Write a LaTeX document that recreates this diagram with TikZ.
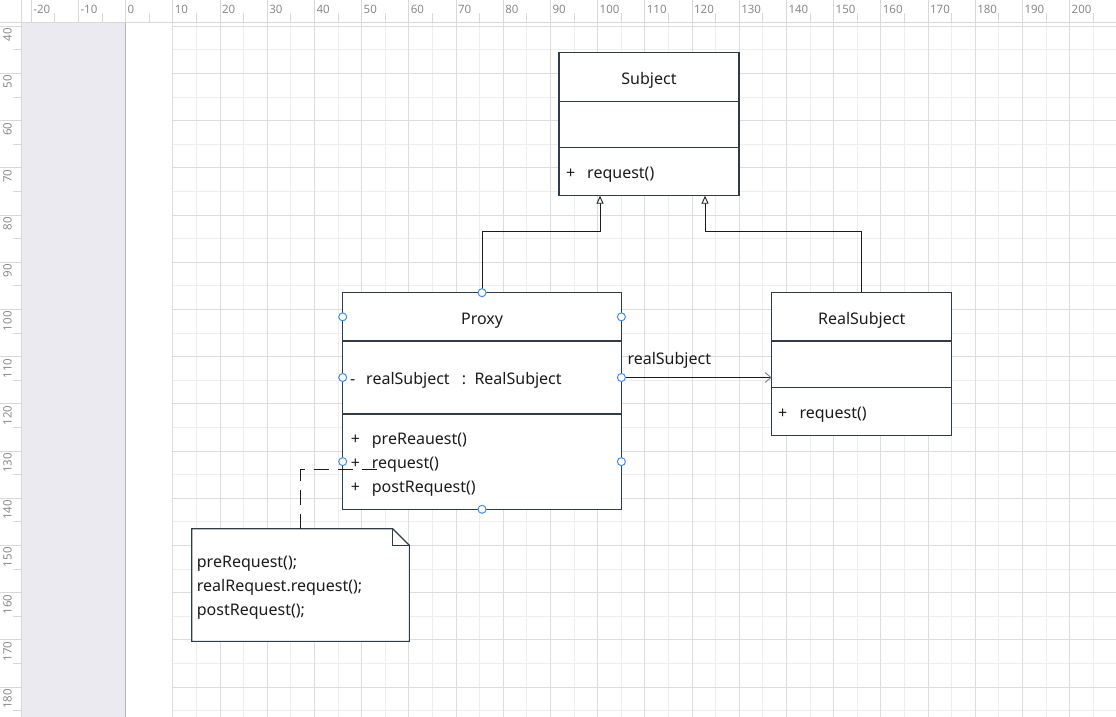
\documentclass[tikz,border=0pt]{standalone}
\usepackage{fontspec}
\setmainfont{Noto Sans}
\usetikzlibrary{arrows.meta}
\definecolor{numregua}{HTML}{8A8A8A}
\definecolor{tracor}{HTML}{D8D8D8}
\definecolor{faixa}{HTML}{EAEAF0}
\definecolor{bordafaixa}{HTML}{B5B5B5}
\definecolor{gradeforte}{HTML}{DDDDDD}
\definecolor{gradefraca}{HTML}{EEEEEE}
\definecolor{contorno}{HTML}{2F3D4A}
\definecolor{tinta}{HTML}{1C1C1C}
\definecolor{alca}{HTML}{3D8EF0}
\begin{document}
\begin{tikzpicture}[x=1pt,y=-1pt,
        compart/.style={draw=contorno, fill=white, line width=1.1pt, minimum width=#1,
            inner sep=0pt, outer sep=0pt, anchor=north, text=tinta, text height=15pt, text depth=0pt,
            font=\fontsize{16}{19}\selectfont},
        txt/.style={anchor=base west, inner sep=0pt, text=tinta, font=\fontsize{16}{19}\selectfont},
        numx/.style={anchor=base west, inner sep=0pt, text=numregua, font=\fontsize{11.5}{13}\selectfont},
        numy/.style={rotate=90, anchor=base east, inner sep=0pt, text=numregua, font=\fontsize{11.5}{13}\selectfont},
        tracoregua/.style={draw=tracor, line width=0.8pt},
        heranca/.style={draw=tinta, line width=0.9pt, -{Triangle[length=8pt, width=7pt, fill=white]}},
        assoc/.style={draw=tinta, line width=0.9pt, -{Straight Barb[length=6pt, width=10pt, color=gray]}},
        tracejado/.style={draw=tinta, line width=1pt, dash pattern=on 15pt off 9pt},
        alcaponto/.style={draw=alca, fill=white, line width=1pt}
    ]
        \useasboundingbox (0,0) rectangle (1116,717);

        % grade
        \fill[faixa] (21,22) rectangle (125,717);
        \draw[bordafaixa, line width=1pt] (125.5,22) -- (125.5,717);
        \foreach \v in {15,25,...,205} {
            \draw[gradefraca, line width=0.8pt] ({125.5+\v*4.72},22) -- ({125.5+\v*4.72},717);
        }
        \foreach \v in {45,55,...,185} {
            \draw[gradefraca, line width=0.8pt] (172.7,{26.1+(\v-40)*4.72}) -- (1116,{26.1+(\v-40)*4.72});
        }
        \foreach \v in {10,20,...,200} {
            \draw[gradeforte, line width=0.8pt] ({125.5+\v*4.72},22) -- ({125.5+\v*4.72},717);
        }
        \foreach \v in {40,50,...,180} {
            \draw[gradeforte, line width=0.8pt] (172.7,{26.1+(\v-40)*4.72}) -- (1116,{26.1+(\v-40)*4.72});
        }

        % régua superior
        \foreach \v [count=\i] in {-20,-10,...,200} {
            \draw[tracoregua] ({125.5+\v*4.72},0) -- ++(0,22);
            \draw[tracoregua] ({125.5+(\v+5)*4.72},13) -- ++(0,9);
            \node[numx] (rx\i) at ({127.5+\v*4.72},13.5) {\v};
        }
        \draw[tracoregua] (0,22) -- (1116,22);

        % régua lateral
        \foreach \v [count=\i] in {40,50,...,180} {
            \draw[tracoregua] (0,{26.1+(\v-40)*4.72}) -- ++(21,0);
            \draw[tracoregua] (13,{26.1+(\v-35)*4.72}) -- ++(8,0);
            \node[numy] (ry\i) at (11.7,{28+(\v-40)*4.72}) {\v};
        }
        \draw[tracoregua] (21,0) -- (21,717);

        % classe Subject
        \node[compart=180, minimum height=49, anchor=north west] (subjCab) at (559,52.3) {Subject};
        \node[compart=180, minimum height=46.3] (subjAtr) at (subjCab.south) {};
        \node[compart=180, minimum height=48.1] (subjOps) at (subjAtr.south) {};
        \node[txt] (subjMais) at (566,178.3) {+};
        \node[txt] (subjReq) at (587,178.3) {request()};

        % classe Proxy
        \node[compart=278.7, minimum height=48.3, anchor=north west] (proxyCab) at (342.7,292.7) {Proxy};
        \node[compart=278.7, minimum height=73] (proxyAtr) at (proxyCab.south) {};
        \node[compart=278.7, minimum height=95.3] (proxyOps) at (proxyAtr.south) {};
        \node[txt] (proxyMenos) at (350,384.3) {-};
        \node[txt] (proxyCampo) at (366,384.3) {realSubject};
        \node[txt] (proxyDois) at (461.7,384.3) {:};
        \node[txt] (proxyTipo) at (474.3,384.3) {RealSubject};
        \foreach \nome [count=\i] in {preReauest(), request(), postRequest()} {
            \node[txt] (pm\i) at (350.7,{444.7+(\i-1)*24}) {+};
            \node[txt] (pn\i) at (371.7,{444.7+(\i-1)*24}) {\nome};
        }

        % classe RealSubject
        \node[compart=180, minimum height=48.7, anchor=north west] (realCab) at (771.7,292.3) {RealSubject};
        \node[compart=180, minimum height=46.3] (realAtr) at (realCab.south) {};
        \node[compart=180, minimum height=48.4] (realOps) at (realAtr.south) {};
        \node[txt] (realMais) at (778,418.3) {+};
        \node[txt] (realReq) at (799.3,418.3) {request()};

        % heranças e associação
        \draw[heranca] (proxyCab.north) -- ++(0,-61.7) -| ([xshift=-49pt]subjOps.south);
        \draw[heranca] (realCab.north) -- ++(0,-61.3) -| ([xshift=56pt]subjOps.south);
        \draw[assoc] (proxyAtr.east) -- (proxyAtr.east -| realAtr.west);
        \node[txt] (rotulo) at (627.3,364.3) {realSubject};

        % nota
        \node[anchor=north west, minimum width=217.6, minimum height=112.6, inner sep=0pt, outer sep=0pt] (nota) at (191.7,528.7) {};
        \draw[draw=contorno, fill=white, line width=1.1pt] (nota.north west) -- ([xshift=-16.6pt]nota.north east)
            -- ([yshift=-16.6pt]nota.north east) -- (nota.south east) -- (nota.south west) -- cycle;
        \draw[draw=contorno, line width=0.6pt] ([xshift=-16.6pt]nota.north east) |- ([yshift=-16.6pt]nota.north east);
        \foreach \linha [count=\i] in {preRequest();, realRequest.request();, postRequest();} {
            \node[txt] (nl\i) at (196.7,{567.3+(\i-1)*24.2}) {\linha};
        }
        \coordinate (fimReq) at (376.7,469.7);
        \draw[tracejado] (nota.north) |- (fimReq);

        % pontos de ligação
        \foreach \a in {proxyCab.north, proxyCab.west, proxyCab.east, proxyAtr.west,
            proxyAtr.east, proxyOps.west, proxyOps.east, proxyOps.south} {
            \draw[alcaponto] (\a) circle (4);
        }
\end{tikzpicture}
\end{document}
